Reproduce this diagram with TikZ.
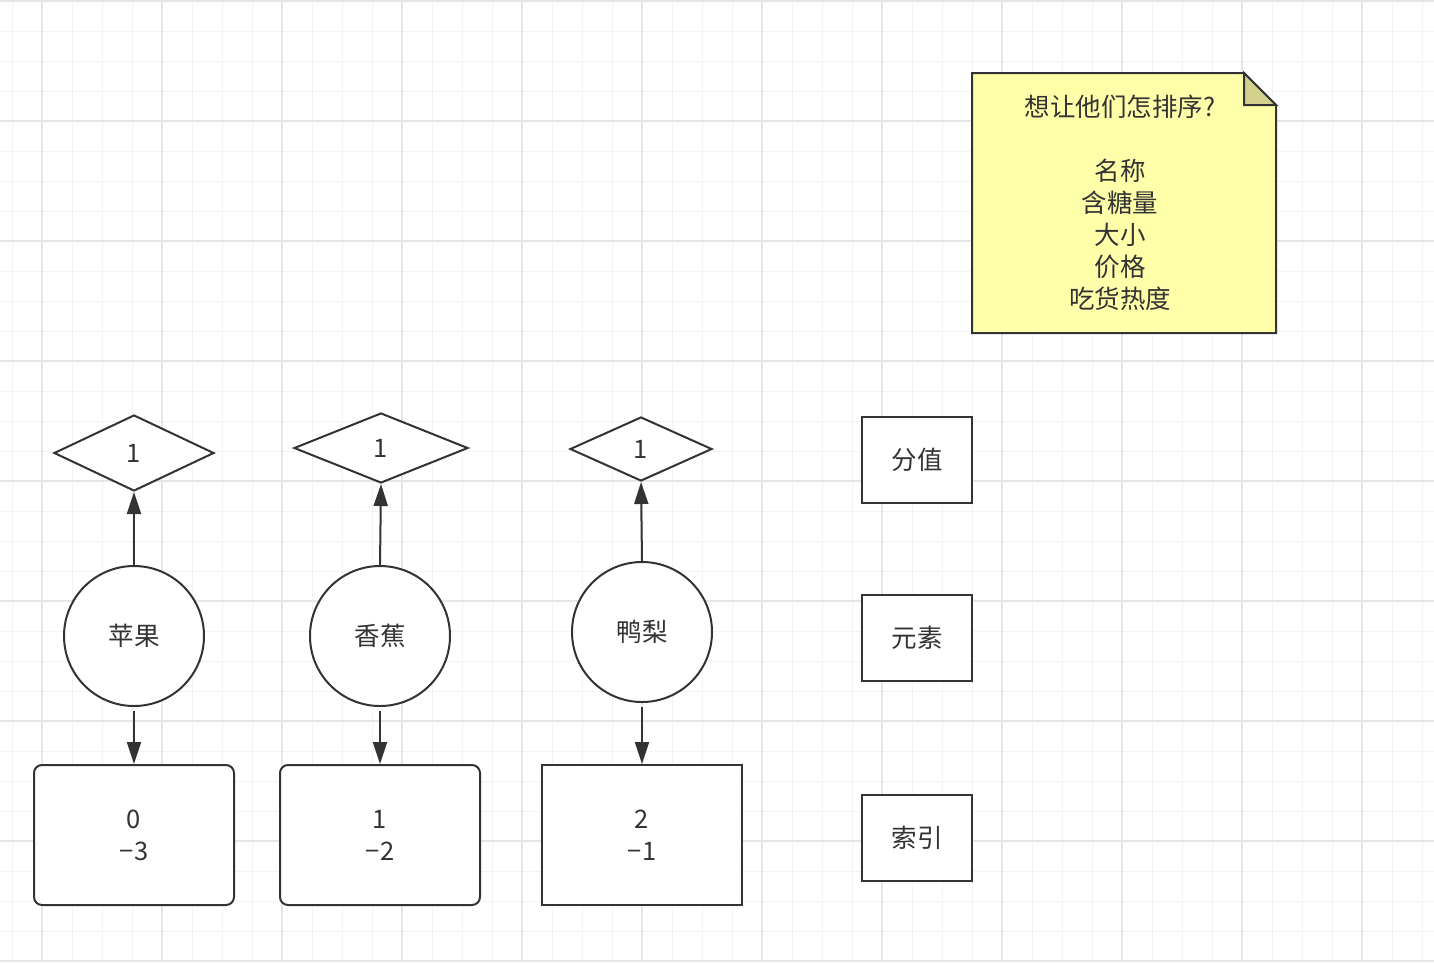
\documentclass[tikz,border=0pt]{standalone}
\usepackage{fontspec}
\setmainfont{Noto Sans CJK SC}
\usetikzlibrary{shapes.geometric,arrows.meta}
\definecolor{ink}{HTML}{333333}
\definecolor{minorg}{HTML}{F3F3F3}
\definecolor{majorg}{HTML}{E6E6E6}
\definecolor{notefill}{HTML}{FFFFAA}
\definecolor{foldfill}{HTML}{D2D08C}
\tikzset{
  txt/.style={font=\fontsize{25.5}{32}\selectfont, text=ink, align=center, inner sep=0pt},
  shp/.style={draw=ink, line width=2pt, fill=white, txt},
  dia/.style={shp, shape=diamond, minimum width=#1},
  circ/.style={shp, shape=circle, minimum size=140pt},
  idxbox/.style={shp, rectangle, minimum width=200pt, minimum height=140pt},
  legbox/.style={shp, rectangle, minimum width=110pt, minimum height=86pt},
  arr/.style={draw=ink, line width=2pt, -{Triangle[length=22pt,width=14pt]}},
  minorline/.style={draw=minorg, line width=1pt},
  majorline/.style={draw=majorg, line width=1.5pt}
}
\begin{document}
\begin{tikzpicture}[x=1pt,y=-1pt]
\useasboundingbox (0,0) rectangle (1434,962);
\fill[white] (0,0) rectangle (1434,962);
% grid
\foreach \x in {12,42,...,1434} \draw[minorline] (\x,0) -- (\x,962);
\foreach \y in {1,31,...,962} \draw[minorline] (0,\y) -- (1434,\y);
\foreach \x in {42,162,...,1434} \draw[majorline] (\x,0) -- (\x,962);
\foreach \y in {1,121,...,962} \draw[majorline] (0,\y) -- (1434,\y);

% note
\draw[draw=ink, line width=2pt, fill=notefill, line join=miter]
  (972,73) -- (1244,73) -- (1276,105) -- (1276,333) -- (972,333) -- cycle;
\draw[draw=ink, line width=2pt, fill=foldfill, line join=miter]
  (1244,73) -- (1276,105) -- (1244,105) -- cycle;
\node[txt] (note) at (1120,203) {想让他们怎排序?\\[32pt]名称\\含糖量\\大小\\价格\\吃货热度};

% diamonds
\node[dia=160pt, minimum height=76pt] (d1) at (134,453) {1};
\node[dia=174pt, minimum height=70pt] (d2) at (381,448) {1};
\node[dia=142pt, minimum height=64pt] (d3) at (641,449) {1};

% circles
\node[circ] (c1) at (134,636) {苹果};
\node[circ] (c2) at (380,636) {香蕉};
\node[circ] (c3) at (642,632) {鸭梨};

% index boxes
\node[idxbox, rounded corners=8pt] (r1) at (134,835) {0\\−3};
\node[idxbox, rounded corners=8pt] (r2) at (380,835) {1\\−2};
\node[idxbox] (r3) at (642,835) {2\\−1};

% legend
\node[legbox] (l1) at (917,459.5) {分值};
\node[legbox] (l2) at (917,638) {元素};
\node[legbox] (l3) at (917,838) {索引};

% arrows
\draw[arr] (c1.north) -- (d1.south);
\draw[arr] (c2.north) -- (d2.south);
\draw[arr] (c3.north) -- (d3.south);
\draw[arr] ([yshift=-4pt]c1.south) -- (r1.north);
\draw[arr] ([yshift=-4pt]c2.south) -- (r2.north);
\draw[arr] ([yshift=-4pt]c3.south) -- (r3.north);
\end{tikzpicture}
\end{document}
